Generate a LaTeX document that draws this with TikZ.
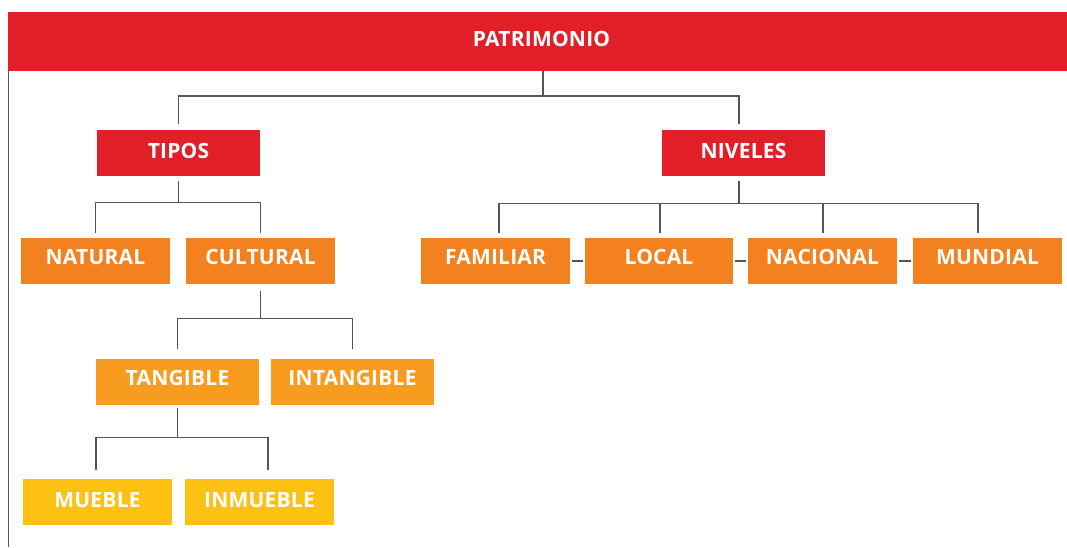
\documentclass[tikz,border=0pt]{standalone}
\usepackage{fontspec}
\setmainfont{Open Sans}[UprightFont=* Bold]
\usetikzlibrary{calc}
\definecolor{cred}{HTML}{E21F27}
\definecolor{corange}{HTML}{F48120}
\definecolor{clight}{HTML}{F89C1F}
\definecolor{cyellow}{HTML}{FDC113}
\definecolor{cline}{HTML}{555555}
\tikzset{
  box/.style={draw=none, minimum height=46pt, inner sep=0pt, text=white,
    text height=15pt, text depth=7pt,
    font=\fontsize{21}{22}\selectfont\addfontfeatures{LetterSpace=1}},
  redbox/.style={box, fill=cred, minimum width=163pt, text depth=5pt},
  orbox/.style={box, fill=corange, minimum width=149pt, text depth=9pt},
  ltbox/.style={box, fill=clight, minimum width=163pt, text depth=8pt},
  yebox/.style={box, fill=cyellow, minimum width=149pt, text depth=4pt},
  conn/.style={draw=cline, line width=1.3pt},
  branch/.style={conn, shorten <=5pt, shorten >=5pt},
}
\begin{document}
\begin{tikzpicture}[x=1pt, y=-1pt]
\useasboundingbox (0,0) rectangle (1067,547);
% title bar
\node[box, fill=cred, minimum width=1067pt, minimum height=59pt, text depth=5pt] (pat) at (541.5,41.5) {PATRIMONIO};
\coordinate (patb) at (543,71);
\coordinate (lefttop) at (8.5,71);
\coordinate (leftbot) at (8.5,547);
\draw[conn, line width=1.3pt, draw=black!65] (lefttop) -- (leftbot);
% level 1
\node[redbox] (tipos) at (178.5,153) {TIPOS};
\node[redbox] (niveles) at (743.5,153) {NIVELES};
% tipos children
\node[orbox] (natural) at (95.5,261) {NATURAL};
\node[orbox] (cultural) at (260.5,261) {CULTURAL};
% cultural children
\node[ltbox] (tangible) at (177.5,382) {TANGIBLE};
\node[ltbox] (intangible) at (352.5,382) {INTANGIBLE};
% tangible children
\node[yebox] (mueble) at (97.5,502) {MUEBLE};
\node[yebox] (inmueble) at (259.5,502) {INMUEBLE};
% niveles children
\node[orbox] (familiar) at (495.5,261) {FAMILIAR};
\node[orbox, minimum width=148pt] (local) at (659,261) {LOCAL};
\node[orbox] (nacional) at (822.5,261) {NACIONAL};
\node[orbox] (mundial) at (987.5,261) {MUNDIAL};

% connectors
\draw[conn, shorten >=6pt] (patb) -- ++(0,25) -| (tipos.north);
\draw[conn, shorten >=6pt] (patb) -- ++(0,25) -| ([xshift=-4.5pt]niveles.north);

\draw[branch] (tipos.south) -- ++(0,26) -| (natural.north);
\draw[branch] (tipos.south) -- ++(0,26) -| (cultural.north);

\draw[branch, shorten <=7pt, shorten >=10pt] (cultural.south) -- ++(0,34) -| (tangible.north);
\draw[branch, shorten <=7pt, shorten >=10pt] (cultural.south) -- ++(0,34) -| (intangible.north);

\draw[branch, shorten <=3pt, shorten >=9pt] (tangible.south) -- ++(0,32) -| ([xshift=-1.5pt]mueble.north);
\draw[branch, shorten <=3pt, shorten >=9pt] (tangible.south) -- ++(0,32) -| ([xshift=8.5pt]inmueble.north);

\draw[branch] ([xshift=-4.5pt]niveles.south) -- ++(0,27) -| ([xshift=3.5pt]familiar.north);
\draw[branch] ([xshift=-4.5pt]niveles.south) -- ++(0,27) -| ([xshift=1pt]local.north);
\draw[branch] ([xshift=-4.5pt]niveles.south) -- ++(0,27) -| ([xshift=0.5pt]nacional.north);
\draw[branch] ([xshift=-4.5pt]niveles.south) -- ++(0,27) -| ([xshift=-9.5pt]mundial.north);

\draw[conn, shorten <=2pt, shorten >=2pt] (familiar.east) -- (local.west);
\draw[conn, shorten <=2pt, shorten >=2pt] (local.east) -- (nacional.west);
\draw[conn, shorten <=2pt, shorten >=2pt] (nacional.east) -- (mundial.west);
\end{tikzpicture}
\end{document}
